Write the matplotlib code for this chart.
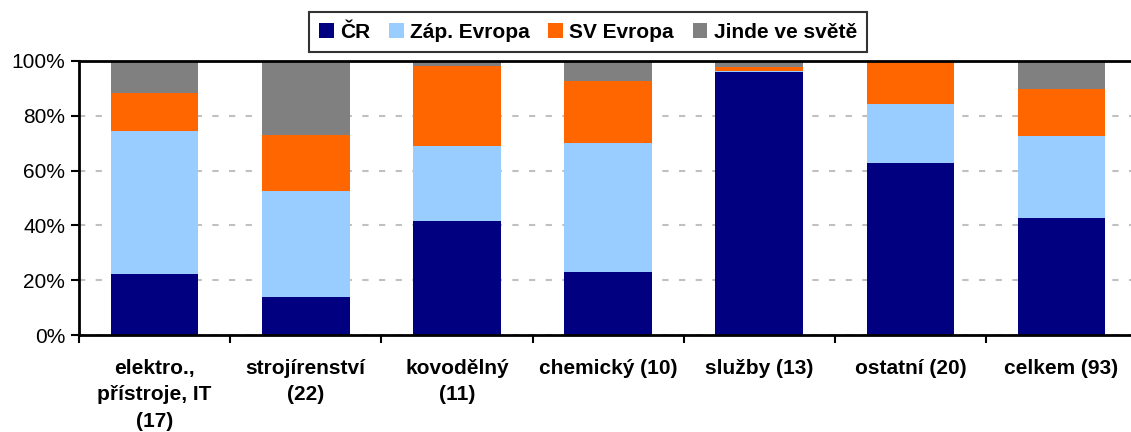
import matplotlib
matplotlib.use("Agg")
import matplotlib.pyplot as plt
import numpy as np
from matplotlib.ticker import PercentFormatter

plt.rcParams["font.family"] = ["Liberation Sans", "DejaVu Sans"]

# shares of firms by where they sell (%), per branch
categories = ["elektro.,\npřístroje, IT\n(17)", "strojírenství\n(22)", "kovodělný\n(11)",
              "chemický (10)", "služby (13)", "ostatní (20)", "celkem (93)"]
cr = [22.4, 13.8, 41.5, 23.1, 96.1, 62.9, 42.6]
zap_evropa = [52.1, 38.9, 27.3, 46.8, 0.4, 21.5, 30.2]
sv_evropa = [13.8, 20.4, 29.5, 22.8, 1.4, 15.6, 16.8]
jinde = [11.7, 26.9, 1.7, 7.3, 2.1, 0.0, 10.4]

series = [("ČR", cr, "#000080"),
          ("Záp. Evropa", zap_evropa, "#99CCFF"),
          ("SV Evropa", sv_evropa, "#FF6600"),
          ("Jinde ve světě", jinde, "#808080")]

FS = 15

fig = plt.figure(figsize=(11.31, 4.32), dpi=100)
ax = fig.add_axes([0.0699, 0.2245, 0.9355, 0.6343])

x = np.arange(len(categories))
bottom = np.zeros(len(categories))
for name, vals, col in series:
    ax.bar(x, vals, 0.58, bottom=bottom, color=col, label=name, zorder=3)
    bottom += np.array(vals)

ax.set_xlim(-0.5, len(categories) - 0.5)
ax.set_ylim(0, 100)
ax.set_yticks(np.arange(0, 101, 20))
ax.yaxis.set_major_formatter(PercentFormatter(decimals=0))
ax.grid(axis="y", color="#c0c0c0", linestyle=(0, (3, 5)), linewidth=1.5, zorder=0)

# category labels centred, ticks between categories
ax.set_xticks(np.arange(-0.5, len(categories), 1))
ax.set_xticklabels([])
ax.set_xticks(x, minor=True)
ax.set_xticklabels(categories, minor=True, fontsize=FS, fontweight="bold",
                   linespacing=1.5, va="top")
ax.tick_params(axis="x", which="minor", length=0, pad=17)
ax.tick_params(axis="x", which="major", length=6, width=1.5, direction="out")
ax.tick_params(axis="y", length=6, width=1.5, labelsize=FS, pad=4)

for side in ["left", "bottom", "top"]:
    ax.spines[side].set_linewidth(2)
    ax.spines[side].set_zorder(4)
ax.spines["right"].set_visible(False)

leg = fig.legend(loc="upper center", bbox_to_anchor=(0.52, 0.972), ncol=4,
                 frameon=True, fancybox=False, handlelength=0.7, handleheight=0.7,
                 handletextpad=0.3, columnspacing=0.9, borderpad=0.5,
                 borderaxespad=0, prop={"weight": "bold", "size": FS})
leg.get_frame().set_edgecolor("black")
leg.get_frame().set_linewidth(1.5)

fig.savefig("out.png", dpi=100)
